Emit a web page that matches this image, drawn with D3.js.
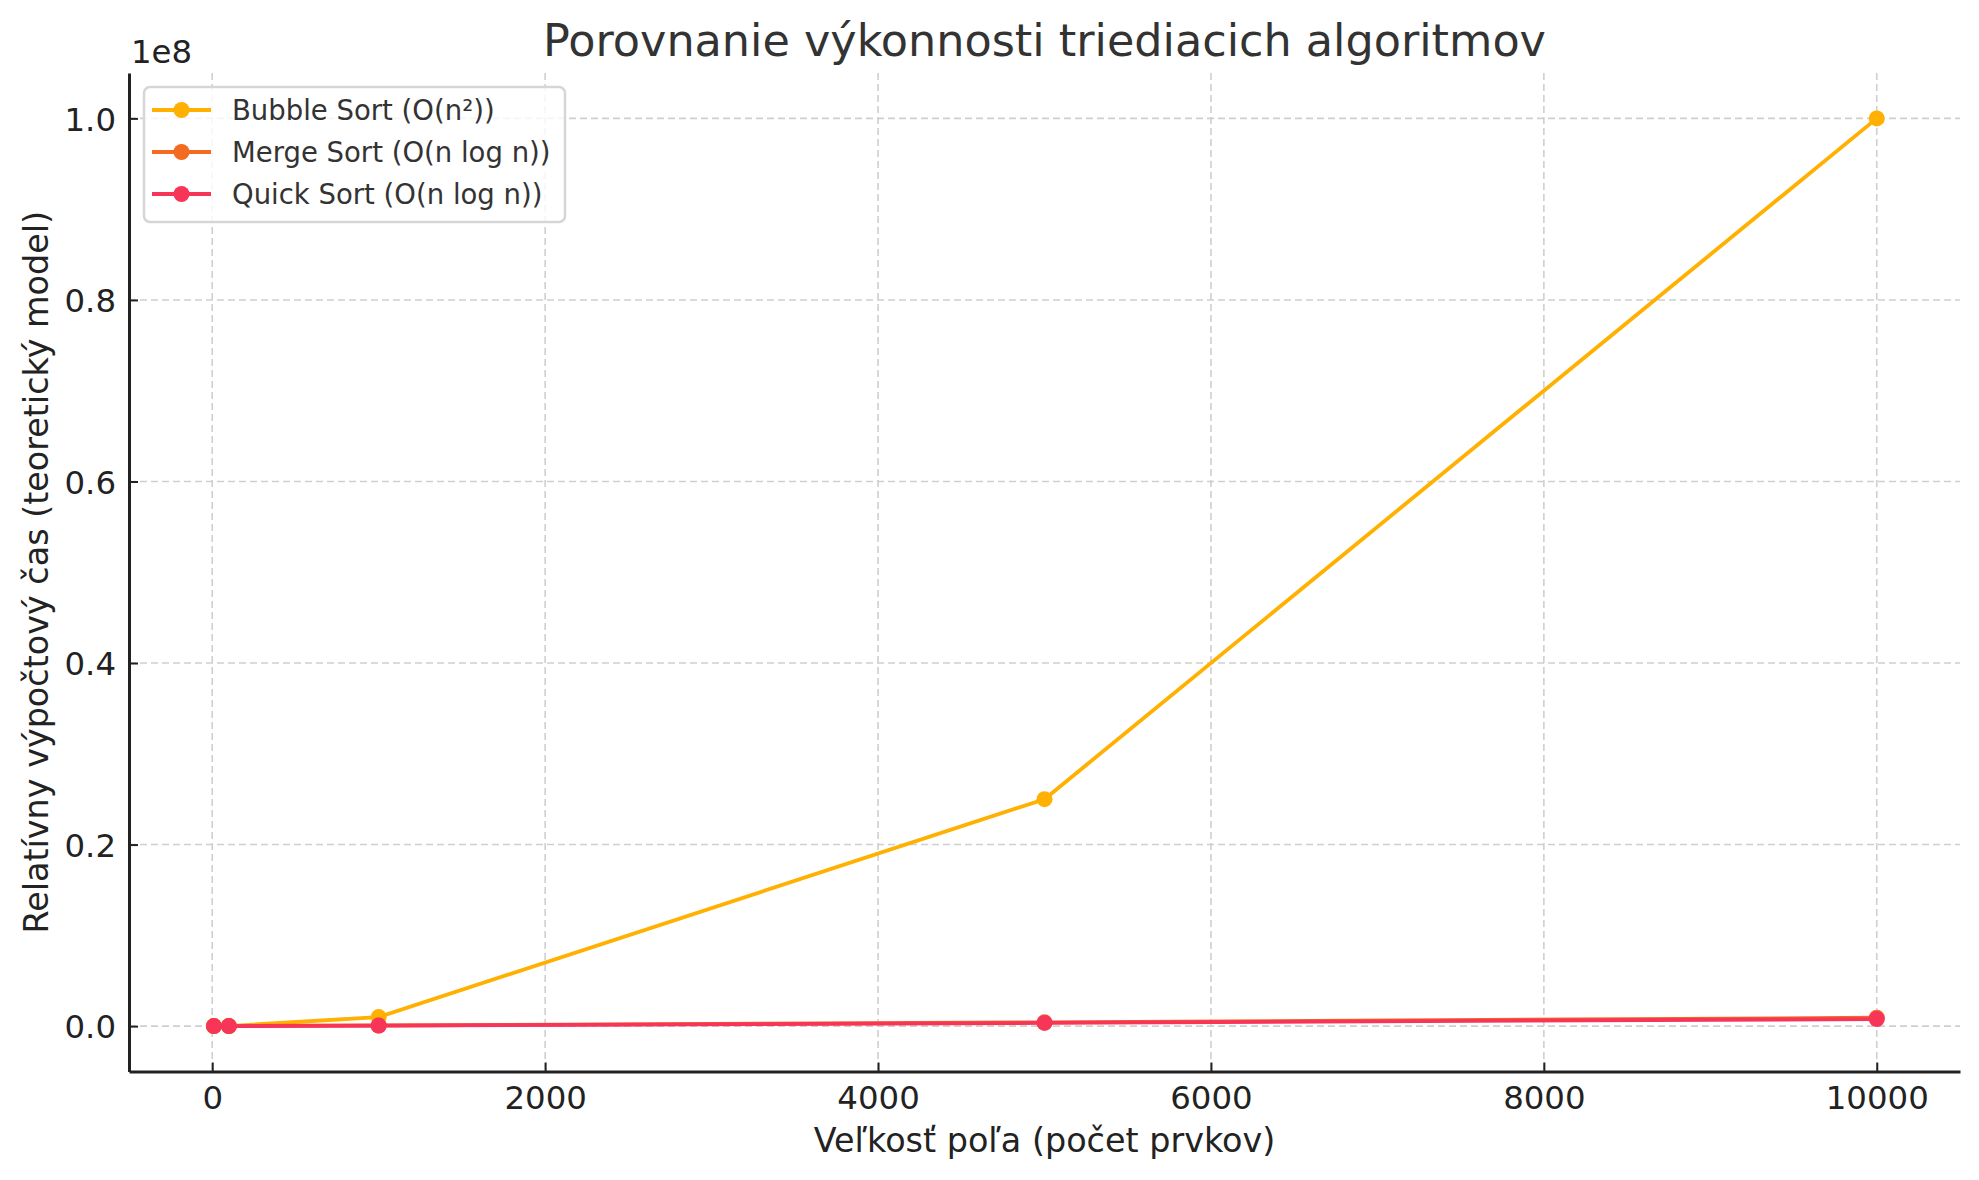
<!DOCTYPE html>
<meta charset="utf-8">
<style>
    body {
        margin: 0;
        background: #fff;
    }

    svg text {
        font-family: "DejaVu Sans", sans-serif;
    }
</style>
<svg id="chart" width="1979" height="1180"></svg>
<script src="https://cdn.jsdelivr.net/npm/d3@7"></script>
<script>

    // values
    var sizes = [10, 100, 1000, 5000, 10000];
    var bubbleSort = [100, 10000, 1000000, 25000000, 100000000];
    var mergeSort = [230, 4600, 70000, 420000, 920000];
    var quickSort = [190, 3900, 60000, 350000, 780000];

    var seriesNames = ["Bubble Sort (O(n²))", "Merge Sort (O(n log n))", "Quick Sort (O(n log n))"];
    var seriesColors = ["#ffb000", "#f26b21", "#f73558"];
    var xTicks = [0, 2000, 4000, 6000, 8000, 10000];
    var yTicks = [0, 0.2e8, 0.4e8, 0.6e8, 0.8e8, 1.0e8];

    var svg = d3.select("#chart"),
        pLeft = 129, pRight = 1960, pTop = 73, pBottom = 1071.5;

    var x = d3.scaleLinear().domain([-500, 10500]).range([pLeft, pRight]);
    var y = d3.scaleLinear().domain([-0.05e8, 1.05e8]).range([pBottom, pTop]);

    // grid
    var grid = svg.append("g")
        .attr("stroke", "#cfcfcf")
        .attr("stroke-width", 1.6)
        .attr("stroke-dasharray", "7,4");

    grid.selectAll("line.vx")
        .data(xTicks)
        .enter().append("line")
        .attr("x1", x).attr("x2", x)
        .attr("y1", pTop).attr("y2", pBottom);

    grid.selectAll("line.hy")
        .data(yTicks)
        .enter().append("line")
        .attr("y1", y).attr("y2", y)
        .attr("x1", pLeft).attr("x2", pRight);

    // series
    var series = [bubbleSort, mergeSort, quickSort].map(function (vals, i) {
        return { name: seriesNames[i], color: seriesColors[i], points: vals.map(function (v, j) { return [sizes[j], v]; }) };
    });

    var line = d3.line()
        .x(function (d) { return x(d[0]); })
        .y(function (d) { return y(d[1]); });

    var sg = svg.append("g")
        .selectAll("g")
        .data(series)
        .enter().append("g");

    sg.append("path")
        .attr("d", function (d) { return line(d.points); })
        .attr("fill", "none")
        .attr("stroke", function (d) { return d.color; })
        .attr("stroke-width", 3.8)
        .attr("stroke-linejoin", "round");

    sg.each(function (s) {
        d3.select(this).selectAll("circle")
            .data(s.points)
            .enter().append("circle")
            .attr("cx", function (d) { return x(d[0]); })
            .attr("cy", function (d) { return y(d[1]); })
            .attr("r", 8)
            .attr("fill", s.color);
    });

    // axes (ticks inside)
    var xAxis = svg.append("g")
        .attr("transform", "translate(0," + pBottom + ")")
        .call(d3.axisBottom(x).tickValues(xTicks).tickSizeInner(-9).tickSizeOuter(0).tickPadding(14).tickFormat(d3.format("d")));

    var yAxis = svg.append("g")
        .attr("transform", "translate(" + pLeft + ",0)")
        .call(d3.axisLeft(y).tickValues(yTicks).tickSizeInner(-9).tickSizeOuter(0).tickPadding(13)
            .tickFormat(function (d) { return (d / 1e8).toFixed(1); }));

    [xAxis, yAxis].forEach(function (a) {
        a.select(".domain").attr("stroke", "#222").attr("stroke-width", 3);
        a.selectAll(".tick line").attr("stroke", "#222").attr("stroke-width", 2);
        a.selectAll(".tick text").attr("fill", "#222").attr("font-size", 32.4);
    });
    xAxis.selectAll(".tick text").attr("dy", "0.71em");
    yAxis.selectAll(".tick text").attr("dy", "0.36em");

    svg.append("text")
        .attr("x", 131)
        .attr("y", 63)
        .attr("font-size", 32.4)
        .attr("fill", "#222")
        .text("1e8");

    // labels
    svg.append("text")
        .attr("x", (pLeft + pRight) / 2)
        .attr("y", 1152)
        .attr("text-anchor", "middle")
        .attr("font-size", 33.4)
        .attr("fill", "#222")
        .text("Veľkosť poľa (počet prvkov)");

    svg.append("text")
        .attr("transform", "translate(48," + (pTop + pBottom) / 2 + ")rotate(-90)")
        .attr("text-anchor", "middle")
        .attr("font-size", 33.4)
        .attr("fill", "#222")
        .text("Relatívny výpočtový čas (teoretický model)");

    svg.append("text")
        .attr("x", (pLeft + pRight) / 2)
        .attr("y", 56)
        .attr("text-anchor", "middle")
        .attr("font-size", 44.5)
        .attr("fill", "#333")
        .text("Porovnanie výkonnosti triediacich algoritmov");

    // legend
    var legend = svg.append("g");
    legend.append("rect")
        .attr("x", 144)
        .attr("y", 87)
        .attr("width", 421)
        .attr("height", 135)
        .attr("rx", 6)
        .attr("fill", "#fff")
        .attr("fill-opacity", 0.8)
        .attr("stroke", "#d6d6d6")
        .attr("stroke-width", 2.5);

    var item = legend.selectAll("g")
        .data(series)
        .enter().append("g")
        .attr("transform", function (d, i) { return "translate(152," + (110 + i * 42) + ")"; });

    item.append("line")
        .attr("x2", 59)
        .attr("stroke", function (d) { return d.color; })
        .attr("stroke-width", 3.8);

    item.append("circle")
        .attr("cx", 29.5)
        .attr("r", 8)
        .attr("fill", function (d) { return d.color; });

    item.append("text")
        .attr("x", 80)
        .attr("dy", "0.36em")
        .attr("font-size", 27.5)
        .attr("fill", "#333")
        .text(function (d) { return d.name; });
</script>
